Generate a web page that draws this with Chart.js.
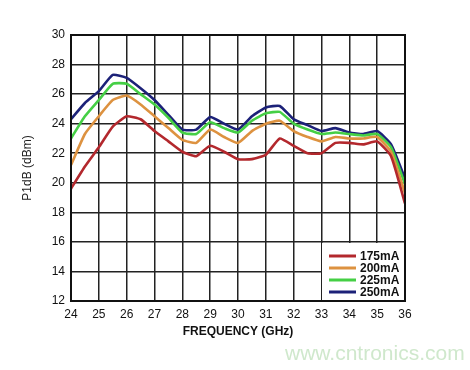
<!DOCTYPE html>
<html><head><meta charset="utf-8">
<script src="https://cdn.jsdelivr.net/npm/chart.js@4/dist/chart.umd.min.js"></script>
<style>html,body{margin:0;padding:0;background:#fff}#wrap{width:470px;height:370px}</style>
</head><body><div id="wrap"><canvas id="c" width="470" height="370"></canvas></div>
<script>
const freqs = [24,24.5,25,25.5,26,26.5,27,27.5,28,28.5,29,29.5,30,30.5,31,31.5,32,32.5,33,33.5,34,34.5,35,35.5,36];
const s175 = [19.6,21.1,22.4,23.8,24.5,24.3,23.5,22.8,22.1,21.8,22.5,22.1,21.6,21.6,21.9,23.0,22.5,22.0,22.0,22.7,22.7,22.6,22.8,21.8,18.6];
const s200 = [21.2,23.3,24.5,25.6,25.9,25.3,24.5,23.7,22.9,22.7,23.6,23.1,22.7,23.5,24.0,24.2,23.5,23.1,22.8,23.1,23.0,23.0,23.1,22.1,19.3];
const s225 = [23.0,24.5,25.6,26.7,26.7,26.0,25.3,24.4,23.4,23.3,24.1,23.7,23.4,24.2,24.7,24.8,24.0,23.6,23.3,23.4,23.3,23.2,23.3,22.4,19.9];
const s250 = [24.3,25.4,26.2,27.3,27.1,26.4,25.6,24.6,23.6,23.6,24.45,24.0,23.6,24.5,25.1,25.2,24.3,23.9,23.5,23.7,23.4,23.3,23.5,22.6,20.3];
const seriesNames = ['175mA','200mA','225mA','250mA'];
const seriesColors = ['#b3282d','#dd9240','#45cf45','#1c2178'];
const xTicks = [24,25,26,27,28,29,30,31,32,33,34,35,36];
const yTicks = [12,14,16,18,20,22,24,26,28,30];

const allSeries = [s175,s200,s225,s250];
const datasets = allSeries.map((s,i)=>({
  label: seriesNames[i],
  data: s.map((v,j)=>({x:freqs[j],y:v})),
  borderColor: seriesColors[i],
  backgroundColor: seriesColors[i],
  borderWidth: 2.6,
  pointRadius: 0,
  tension: 0.15,
  fill: false
}));

const FONT = '"Liberation Sans", Arial, sans-serif';

const extras = {
  id: 'extras',
  afterDatasetsDraw(chart){
    const ctx = chart.ctx, a = chart.chartArea;
    const bx = 322, by = 243, bw = a.right - 322, bh = a.bottom - 243;
    ctx.save();
    ctx.fillStyle = '#fff';
    ctx.fillRect(bx, by, bw, bh);
    ctx.font = 'bold 12px ' + FONT;
    ctx.textBaseline = 'middle';
    ctx.textAlign = 'left';
    chart.data.datasets.forEach((d,i)=>{
      const y = 256 + i*12;
      ctx.strokeStyle = d.borderColor;
      ctx.lineWidth = 3;
      ctx.beginPath(); ctx.moveTo(329,y); ctx.lineTo(356,y); ctx.stroke();
      ctx.fillStyle = '#111';
      ctx.fillText(d.label, 360, y+0.5);
    });
    ctx.strokeStyle = '#111';
    ctx.lineWidth = 2;
    ctx.strokeRect(a.left, a.top, a.right-a.left, a.bottom-a.top);
    ctx.restore();
  },
  afterDraw(chart){
    const ctx = chart.ctx;
    ctx.save();
    ctx.font = '21px ' + FONT;
    ctx.fillStyle = '#cfe8cc';
    ctx.textAlign = 'left';
    ctx.textBaseline = 'middle';
    ctx.fillText('www.cntronics.com', 285, 354);
    ctx.restore();
  }
};

new Chart(document.getElementById('c'), {
  type: 'line',
  data: { datasets },
  options: {
    responsive: false,
    animation: false,
    layout: { padding: { top: 35, right: 65, left: 20, bottom: 31 } },
    plugins: { legend: { display: false }, tooltip: { enabled: false } },
    scales: {
      x: {
        type: 'linear', min: 24, max: 36,
        afterBuildTicks(s){ s.ticks = xTicks.map(v=>({value:v})); },
        afterFit(s){ s.height = 38; },
        grid: { color: '#222', lineWidth: 1.5, drawTicks: false },
        border: { display: false },
        ticks: { color: '#111', padding: 6, maxRotation: 0, autoSkip: false, font: { family: FONT, size: 12 } },
        title: { display: true, text: 'FREQUENCY (GHz)', color: '#111', padding: { top: 2, bottom: 0 }, font: { family: FONT, size: 12, weight: 'bold' } }
      },
      y: {
        min: 12, max: 30,
        afterBuildTicks(s){ s.ticks = yTicks.map(v=>({value:v})); },
        afterFit(s){ s.width = 51; },
        grid: { color: '#222', lineWidth: 1.5, drawTicks: false },
        border: { display: false },
        ticks: { color: '#111', padding: 6, font: { family: FONT, size: 12 } },
        title: { display: true, text: 'P1dB (dBm)', color: '#222', padding: { top: 0, bottom: 0 }, font: { family: FONT, size: 12 } }
      }
    }
  },
  plugins: [extras]
});
</script></body></html>
